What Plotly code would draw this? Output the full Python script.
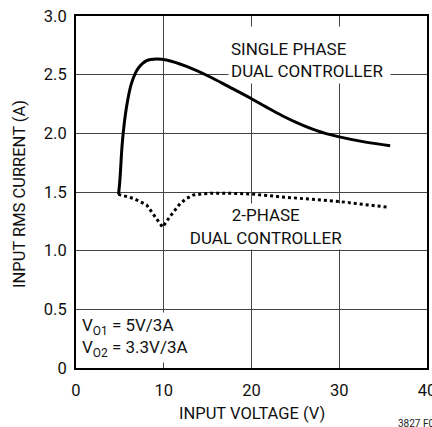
import plotly.graph_objects as go

# Single phase dual controller (solid)
single_x = [4.85, 5.0, 5.3, 5.77, 6.34, 7.1, 8.05, 9.2, 10.3, 12.6, 15.3, 17.35, 20.0, 21.65, 23.5, 25.8, 27.35, 28.5, 30.0, 33.0, 35.8]
single_y = [1.48, 1.60, 1.94, 2.23, 2.43, 2.555, 2.62, 2.634, 2.625, 2.57, 2.48, 2.40, 2.295, 2.225, 2.15, 2.07, 2.025, 1.998, 1.97, 1.925, 1.895]

# 2-phase dual controller (dotted)
two_x = [4.82, 6.53, 8.05, 9.0, 9.87, 10.7, 11.85, 12.6, 13.4, 15.3, 17.3, 20.0, 23.2, 30.0, 35.6]
two_y = [1.48, 1.446, 1.39, 1.29, 1.20, 1.29, 1.40, 1.445, 1.475, 1.49, 1.49, 1.483, 1.46, 1.418, 1.37]

x_ticks = [0, 10, 20, 30, 40]
x_tick_labels = ["0", "10", "20", "30", "40"]
y_ticks = [0, 0.5, 1.0, 1.5, 2.0, 2.5, 3.0]
y_tick_labels = ["0", "0.5", "1.0", "1.5", "2.0", "2.5", "3.0"]

FONT = "Roboto, Liberation Sans, sans-serif"

fig = go.Figure()
fig.add_trace(go.Scatter(x=single_x, y=single_y, mode="lines",
                         line=dict(color="black", width=3, shape="spline", smoothing=1.0),
                         hoverinfo="skip"))
fig.add_trace(go.Scatter(x=two_x, y=two_y, mode="lines",
                         line=dict(color="black", width=3, dash="dot"),
                         hoverinfo="skip"))

axis_common = dict(showgrid=True, gridcolor="#444444", gridwidth=1,
                   showline=True, linecolor="black", linewidth=2, mirror=True,
                   zeroline=False, ticks="", automargin=False,
                   tickfont=dict(family=FONT, size=16.5, color="#111"))

fig.update_xaxes(range=[0, 40], tickvals=x_ticks, ticktext=x_tick_labels,
                 ticklabelstandoff=6, ticklabeloverflow="allow", **axis_common)
fig.update_yaxes(range=[0, 3.0], tickvals=y_ticks, ticktext=y_tick_labels,
                 ticklabelstandoff=4, **axis_common)

ann_font = dict(family=FONT, size=17, color="#111")
fig.add_annotation(x=26.6, y=2.4205, xref="x", yref="y", showarrow=False,
                   xanchor="center", yanchor="bottom", valign="bottom",
                   text="SINGLE PHASE<br>DUAL CONTROLLER", align="left",
                   bgcolor="white", width=157, height=52, borderpad=2, font=ann_font)
fig.add_annotation(x=21.65, y=1.206, xref="x", yref="y", showarrow=False,
                   text="2-PHASE<br>DUAL CONTROLLER", align="center",
                   bgcolor="white", width=162, height=43, font=ann_font)
fig.add_annotation(x=7.69, y=0.26, xref="x", yref="y", showarrow=False,
                   text="V<sub>O1</sub> = 5V/3A<br>V<sub>O2</sub> = 3.3V/3A", align="left",
                   bgcolor="white", width=123, height=47, font=ann_font)

# axis titles
title_font = dict(family=FONT, size=16.5, color="#111")
fig.add_annotation(x=0.5, y=0, xref="paper", yref="paper", showarrow=False,
                   text="INPUT VOLTAGE (V)", yshift=-45, yanchor="middle",
                   font=title_font)
fig.add_annotation(x=0, y=0.5, xref="paper", yref="paper", showarrow=False,
                   text="INPUT RMS CURRENT (A)", textangle=-90, xshift=-57, yshift=-2,
                   xanchor="center", yanchor="middle", font=title_font)
fig.add_annotation(x=1, y=0, xref="paper", yref="paper", showarrow=False,
                   text="3827 F02", xanchor="left", xshift=-31, yshift=-55,
                   yanchor="middle", font=dict(family=FONT, size=10, color="#222"))

fig.update_layout(width=432, height=427, margin=dict(l=76, r=5, t=16, b=59, autoexpand=False),
                  paper_bgcolor="white", plot_bgcolor="white", showlegend=False)

fig.write_html("out.html", config={"displayModeBar": False},
               post_script="document.body.style.margin='0';document.body.style.overflow='hidden';")
